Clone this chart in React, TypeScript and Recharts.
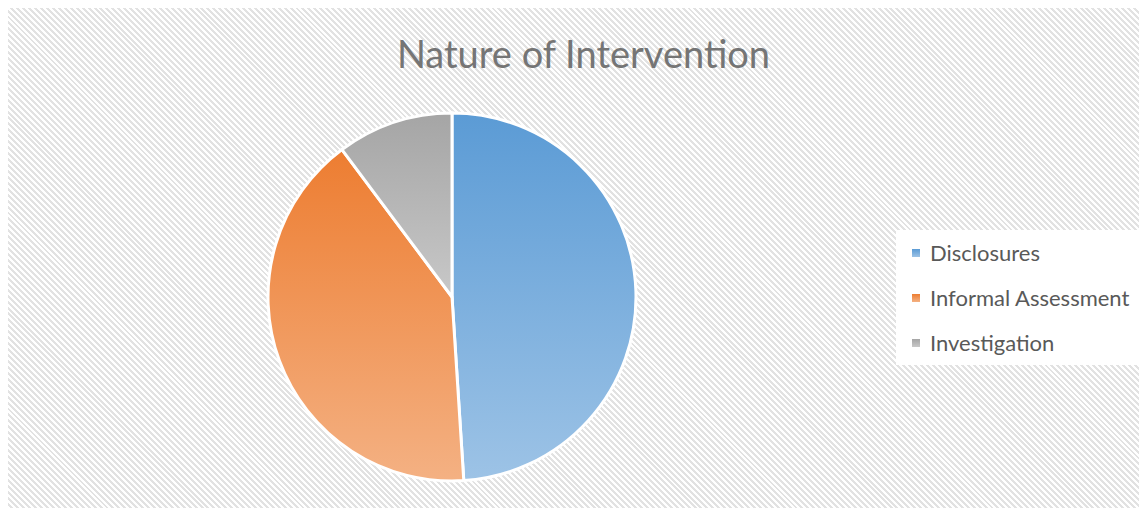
import { PieChart, Pie, Cell, Legend } from 'recharts'

const categories = ['Disclosures', 'Informal Assessment', 'Investigation']
const counts = [24, 20, 5]
const topColors = ['#5B9BD5', '#ED7D31', '#A5A5A5']
const bottomColors = ['#9DC3E6', '#F4B183', '#C8C8C8']

const data = categories.map((name, i) => ({ name, value: counts[i] }))

const font = 'Lato, "Open Sans", sans-serif'

function LegendBox() {
  return (
    <div
      style={{
        background: '#fff',
        width: 252,
        height: 135,
        paddingTop: 0,
        boxSizing: 'border-box',
        fontFamily: font,
        fontSize: 22,
        color: '#595959',
      }}
    >
      {categories.map((c, i) => (
        <div key={c} style={{ display: 'flex', alignItems: 'center', height: 45 }}>
          <span
            style={{
              width: 8,
              height: 8,
              marginLeft: 16,
              marginRight: 10,
              background: `linear-gradient(${topColors[i]}, ${bottomColors[i]})`,
            }}
          />
          <span>{c}</span>
        </div>
      ))}
    </div>
  )
}

export default function App() {
  return (
    <div
      style={{
        position: 'relative',
        width: 1139,
        height: 500,
        margin: '-1px 0 0 -1px',
        borderLeft: '1px solid #D9D9D9',
        borderTop: '1px solid #D9D9D9',
        background:
          'repeating-linear-gradient(45deg, #ffffff 0px, #ffffff 2.1px, #E2E2E2 2.1px, #E2E2E2 4.2px)',
        overflow: 'hidden',
      }}
    >
      <div
        style={{
          position: 'absolute',
          top: 22,
          left: 0,
          width: '100%',
          textAlign: 'center',
          paddingLeft: 12,
          boxSizing: 'border-box',
          fontFamily: font,
          fontSize: 38,
          color: '#757575',
        }}
      >
        Nature of Intervention
      </div>
      <PieChart width={1139} height={500} style={{ position: 'absolute', top: 0, left: 0 }}>
        <defs>
          {categories.map((c, i) => (
            <linearGradient key={c} id={`grad${i}`} x1="0" y1="0" x2="0" y2="1">
              <stop offset="0%" stopColor={topColors[i]} />
              <stop offset="100%" stopColor={bottomColors[i]} />
            </linearGradient>
          ))}
        </defs>
        <Pie
          data={data}
          dataKey="value"
          nameKey="name"
          cx={439}
          cy={284}
          outerRadius={184}
          startAngle={90}
          endAngle={-270}
          stroke="#fff"
          strokeWidth={3}
          isAnimationActive={false}
        >
          {data.map((d, i) => (
            <Cell key={d.name} fill={`url(#grad${i})`} />
          ))}
        </Pie>
        <Legend
          layout="vertical"
          content={<LegendBox />}
          wrapperStyle={{ position: 'absolute', left: 888, top: 222, width: 252 }}
        />
      </PieChart>
    </div>
  )
}
